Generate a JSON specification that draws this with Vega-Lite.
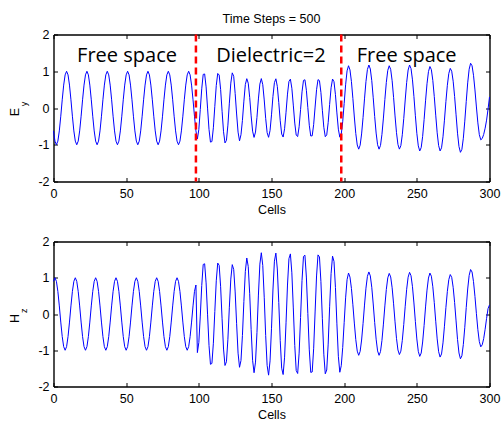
{
"$schema":"https://vega.github.io/schema/vega-lite/v6.json",
"background":"white",
"padding":{"left":8.5,"top":12.5,"right":5,"bottom":5},
"bounds":"flush",
"spacing":60,
"config":{
 "view":{"stroke":null},
 "font":"Liberation Sans",
 "axis":{"grid":false,"domainColor":"black","domainWidth":1.4,"tickColor":"black","tickWidth":1,"tickSize":-4,"labelFont":"Liberation Sans","labelFontSize":12.5,"labelColor":"black","titleFont":"Liberation Sans","titleFontSize":12.5,"titleFontWeight":"normal","titleColor":"black","labelOverlap":false,"labelFlush":false}
},
"datasets":{
"ey":[{"cell":0,"value":-0.623},{"cell":1,"value":-0.901},{"cell":2,"value":-1},{"cell":3,"value":-0.901},{"cell":4,"value":-0.623},{"cell":5,"value":-0.223},{"cell":6,"value":0.223},{"cell":7,"value":0.623},{"cell":8,"value":0.901},{"cell":9,"value":1},{"cell":10,"value":0.901},{"cell":11,"value":0.623},{"cell":12,"value":0.223},{"cell":13,"value":-0.223},{"cell":14,"value":-0.623},{"cell":15,"value":-0.901},{"cell":16,"value":-1},{"cell":17,"value":-0.901},{"cell":18,"value":-0.623},{"cell":19,"value":-0.223},{"cell":20,"value":0.223},{"cell":21,"value":0.623},{"cell":22,"value":0.901},{"cell":23,"value":1},{"cell":24,"value":0.901},{"cell":25,"value":0.623},{"cell":26,"value":0.223},{"cell":27,"value":-0.223},{"cell":28,"value":-0.623},{"cell":29,"value":-0.901},{"cell":30,"value":-1},{"cell":31,"value":-0.901},{"cell":32,"value":-0.623},{"cell":33,"value":-0.223},{"cell":34,"value":0.223},{"cell":35,"value":0.623},{"cell":36,"value":0.901},{"cell":37,"value":1},{"cell":38,"value":0.901},{"cell":39,"value":0.623},{"cell":40,"value":0.223},{"cell":41,"value":-0.223},{"cell":42,"value":-0.623},{"cell":43,"value":-0.901},{"cell":44,"value":-1},{"cell":45,"value":-0.901},{"cell":46,"value":-0.623},{"cell":47,"value":-0.223},{"cell":48,"value":0.223},{"cell":49,"value":0.623},{"cell":50,"value":0.901},{"cell":51,"value":1},{"cell":52,"value":0.901},{"cell":53,"value":0.623},{"cell":54,"value":0.223},{"cell":55,"value":-0.223},{"cell":56,"value":-0.623},{"cell":57,"value":-0.901},{"cell":58,"value":-1},{"cell":59,"value":-0.901},{"cell":60,"value":-0.623},{"cell":61,"value":-0.223},{"cell":62,"value":0.223},{"cell":63,"value":0.623},{"cell":64,"value":0.901},{"cell":65,"value":1},{"cell":66,"value":0.901},{"cell":67,"value":0.623},{"cell":68,"value":0.223},{"cell":69,"value":-0.223},{"cell":70,"value":-0.623},{"cell":71,"value":-0.901},{"cell":72,"value":-1},{"cell":73,"value":-0.901},{"cell":74,"value":-0.623},{"cell":75,"value":-0.223},{"cell":76,"value":0.223},{"cell":77,"value":0.623},{"cell":78,"value":0.901},{"cell":79,"value":1},{"cell":80,"value":0.901},{"cell":81,"value":0.623},{"cell":82,"value":0.223},{"cell":83,"value":-0.223},{"cell":84,"value":-0.623},{"cell":85,"value":-0.901},{"cell":86,"value":-1},{"cell":87,"value":-0.901},{"cell":88,"value":-0.623},{"cell":89,"value":-0.223},{"cell":90,"value":0.223},{"cell":91,"value":0.623},{"cell":92,"value":0.901},{"cell":93,"value":1},{"cell":94,"value":0.901},{"cell":95,"value":0.623},{"cell":96,"value":0.223},{"cell":97,"value":-0.223},{"cell":98,"value":-0.623},
{"cell":99,"value":-0.842},{"cell":100,"value":-0.584},{"cell":101,"value":-0.039},{"cell":102,"value":0.522},{"cell":103,"value":0.915},{"cell":104,"value":0.926},{"cell":105,"value":0.574},{"cell":106,"value":-0.003},{"cell":107,"value":-0.58},{"cell":108,"value":-0.928},{"cell":109,"value":-0.913},{"cell":110,"value":-0.539},{"cell":111,"value":0.046},{"cell":112,"value":0.613},{"cell":113,"value":0.94},{"cell":114,"value":0.897},{"cell":115,"value":0.502},{"cell":116,"value":-0.089},{"cell":117,"value":-0.647},{"cell":118,"value":-0.95},{"cell":119,"value":-0.881},{"cell":120,"value":-0.466},{"cell":121,"value":0.132},{"cell":122,"value":0.677},{"cell":123,"value":0.957},{"cell":124,"value":0.862},{"cell":125,"value":0.397},{"cell":126,"value":-0.163},{"cell":127,"value":-0.657},{"cell":128,"value":-0.894},{"cell":129,"value":-0.728},{"cell":130,"value":-0.336},{"cell":131,"value":0.187},{"cell":132,"value":0.638},{"cell":133,"value":0.798},{"cell":134,"value":0.675},{"cell":135,"value":0.288},{"cell":136,"value":-0.214},{"cell":137,"value":-0.63},{"cell":138,"value":-0.8},{"cell":139,"value":-0.655},{"cell":140,"value":-0.254},{"cell":141,"value":0.247},{"cell":142,"value":0.651},{"cell":143,"value":0.8},{"cell":144,"value":0.634},{"cell":145,"value":0.219},{"cell":146,"value":-0.282},{"cell":147,"value":-0.672},{"cell":148,"value":-0.798},{"cell":149,"value":-0.612},{"cell":150,"value":-0.186},{"cell":151,"value":0.314},{"cell":152,"value":0.69},{"cell":153,"value":0.795},{"cell":154,"value":0.588},{"cell":155,"value":0.15},{"cell":156,"value":-0.347},{"cell":157,"value":-0.708},{"cell":158,"value":-0.79},{"cell":159,"value":-0.564},{"cell":160,"value":-0.115},{"cell":161,"value":0.378},{"cell":162,"value":0.723},{"cell":163,"value":0.785},{"cell":164,"value":0.538},{"cell":165,"value":0.079},{"cell":166,"value":-0.41},{"cell":167,"value":-0.738},{"cell":168,"value":-0.777},{"cell":169,"value":-0.511},{"cell":170,"value":-0.045},{"cell":171,"value":0.439},{"cell":172,"value":0.751},{"cell":173,"value":0.768},{"cell":174,"value":0.482},{"cell":175,"value":0.008},{"cell":176,"value":-0.469},{"cell":177,"value":-0.762},{"cell":178,"value":-0.757},{"cell":179,"value":-0.454},{"cell":180,"value":0.026},{"cell":181,"value":0.497},{"cell":182,"value":0.772},{"cell":183,"value":0.745},{"cell":184,"value":0.424},{"cell":185,"value":-0.062},{"cell":186,"value":-0.525},{"cell":187,"value":-0.781},{"cell":188,"value":-0.731},{"cell":189,"value":-0.394},{"cell":190,"value":0.098},{"cell":191,"value":0.55},{"cell":192,"value":0.788},{"cell":193,"value":0.716},{"cell":194,"value":0.362},{"cell":195,"value":-0.134},{"cell":196,"value":-0.576},{"cell":197,"value":-0.794},
{"cell":198,"value":-0.71},{"cell":199,"value":-0.372},{"cell":200,"value":0.122},{"cell":201,"value":0.631},{"cell":202,"value":1.011},{"cell":203,"value":1.15},{"cell":204,"value":1.036},{"cell":205,"value":0.719},{"cell":206,"value":0.259},{"cell":207,"value":-0.245},{"cell":208,"value":-0.694},{"cell":209,"value":-1.006},{"cell":210,"value":-1.12},{"cell":211,"value":-1.012},{"cell":212,"value":-0.706},{"cell":213,"value":-0.26},{"cell":214,"value":0.248},{"cell":215,"value":0.72},{"cell":216,"value":1.048},{"cell":217,"value":1.17},{"cell":218,"value":1.061},{"cell":219,"value":0.743},{"cell":220,"value":0.278},{"cell":221,"value":-0.231},{"cell":222,"value":-0.682},{"cell":223,"value":-1.0},{"cell":224,"value":-1.12},{"cell":225,"value":-1.019},{"cell":226,"value":-0.717},{"cell":227,"value":-0.274},{"cell":228,"value":0.229},{"cell":229,"value":0.695},{"cell":230,"value":1.024},{"cell":231,"value":1.15},{"cell":232,"value":1.05},{"cell":233,"value":0.743},{"cell":234,"value":0.289},{"cell":235,"value":-0.216},{"cell":236,"value":-0.671},{"cell":237,"value":-0.993},{"cell":238,"value":-1.119},{"cell":239,"value":-1.025},{"cell":240,"value":-0.728},{"cell":241,"value":-0.288},{"cell":242,"value":0.218},{"cell":243,"value":0.694},{"cell":244,"value":1.033},{"cell":245,"value":1.169},{"cell":246,"value":1.074},{"cell":247,"value":0.766},{"cell":248,"value":0.309},{"cell":249,"value":-0.211},{"cell":250,"value":-0.688},{"cell":251,"value":-1.03},{"cell":252,"value":-1.169},{"cell":253,"value":-1.078},{"cell":254,"value":-0.772},{"cell":255,"value":-0.316},{"cell":256,"value":0.195},{"cell":257,"value":0.659},{"cell":258,"value":0.991},{"cell":259,"value":1.129},{"cell":260,"value":1.043},{"cell":261,"value":0.751},{"cell":262,"value":0.313},{"cell":263,"value":-0.195},{"cell":264,"value":-0.675},{"cell":265,"value":-1.023},{"cell":266,"value":-1.168},{"cell":267,"value":-1.083},{"cell":268,"value":-0.784},{"cell":269,"value":-0.331},{"cell":270,"value":0.173},{"cell":271,"value":0.618},{"cell":272,"value":0.941},{"cell":273,"value":1.078},{"cell":274,"value":1.002},{"cell":275,"value":0.729},{"cell":276,"value":0.312},{"cell":277,"value":-0.186},{"cell":278,"value":-0.685},{"cell":279,"value":-1.049},{"cell":280,"value":-1.206},{"cell":281,"value":-1.127},{"cell":282,"value":-0.823},{"cell":283,"value":-0.358},{"cell":284,"value":0.179},{"cell":285,"value":0.684},{"cell":286,"value":1.054},{"cell":287,"value":1.217},{"cell":288,"value":1.15},{"cell":289,"value":0.891},{"cell":290,"value":0.491},{"cell":291,"value":0.028},{"cell":292,"value":-0.405},{"cell":293,"value":-0.725},{"cell":294,"value":-0.866},{"cell":295,"value":-0.83},{"cell":296,"value":-0.72},{"cell":297,"value":-0.55},{"cell":298,"value":-0.33},{"cell":299,"value":-0.03},{"cell":300,"value":0.3}],
"hz":[{"cell":0,"value":0.901},{"cell":1,"value":1},{"cell":2,"value":0.901},{"cell":3,"value":0.623},{"cell":4,"value":0.223},{"cell":5,"value":-0.223},{"cell":6,"value":-0.623},{"cell":7,"value":-0.901},{"cell":8,"value":-1},{"cell":9,"value":-0.901},{"cell":10,"value":-0.623},{"cell":11,"value":-0.223},{"cell":12,"value":0.223},{"cell":13,"value":0.623},{"cell":14,"value":0.901},{"cell":15,"value":1},{"cell":16,"value":0.901},{"cell":17,"value":0.623},{"cell":18,"value":0.223},{"cell":19,"value":-0.223},{"cell":20,"value":-0.623},{"cell":21,"value":-0.901},{"cell":22,"value":-1},{"cell":23,"value":-0.901},{"cell":24,"value":-0.623},{"cell":25,"value":-0.223},{"cell":26,"value":0.223},{"cell":27,"value":0.623},{"cell":28,"value":0.901},{"cell":29,"value":1},{"cell":30,"value":0.901},{"cell":31,"value":0.623},{"cell":32,"value":0.223},{"cell":33,"value":-0.223},{"cell":34,"value":-0.623},{"cell":35,"value":-0.901},{"cell":36,"value":-1},{"cell":37,"value":-0.901},{"cell":38,"value":-0.623},{"cell":39,"value":-0.223},{"cell":40,"value":0.223},{"cell":41,"value":0.623},{"cell":42,"value":0.901},{"cell":43,"value":1},{"cell":44,"value":0.901},{"cell":45,"value":0.623},{"cell":46,"value":0.223},{"cell":47,"value":-0.223},{"cell":48,"value":-0.623},{"cell":49,"value":-0.901},{"cell":50,"value":-1},{"cell":51,"value":-0.901},{"cell":52,"value":-0.623},{"cell":53,"value":-0.223},{"cell":54,"value":0.223},{"cell":55,"value":0.623},{"cell":56,"value":0.901},{"cell":57,"value":1},{"cell":58,"value":0.901},{"cell":59,"value":0.623},{"cell":60,"value":0.223},{"cell":61,"value":-0.223},{"cell":62,"value":-0.623},{"cell":63,"value":-0.901},{"cell":64,"value":-1},{"cell":65,"value":-0.901},{"cell":66,"value":-0.623},{"cell":67,"value":-0.223},{"cell":68,"value":0.223},{"cell":69,"value":0.623},{"cell":70,"value":0.901},{"cell":71,"value":1},{"cell":72,"value":0.901},{"cell":73,"value":0.623},{"cell":74,"value":0.223},{"cell":75,"value":-0.223},{"cell":76,"value":-0.623},{"cell":77,"value":-0.901},{"cell":78,"value":-1},{"cell":79,"value":-0.901},{"cell":80,"value":-0.623},{"cell":81,"value":-0.223},{"cell":82,"value":0.223},{"cell":83,"value":0.623},{"cell":84,"value":0.901},{"cell":85,"value":1},{"cell":86,"value":0.901},{"cell":87,"value":0.623},{"cell":88,"value":0.223},{"cell":89,"value":-0.223},{"cell":90,"value":-0.623},{"cell":91,"value":-0.901},{"cell":92,"value":-1},{"cell":93,"value":-0.901},{"cell":94,"value":-0.623},{"cell":95,"value":-0.223},{"cell":96,"value":0.223},{"cell":97,"value":0.623},{"cell":98,"value":0.8},
{"cell":99,"value":-1.065},{"cell":100,"value":-0.785},{"cell":101,"value":-0.057},{"cell":102,"value":0.785},{"cell":103,"value":1.367},{"cell":104,"value":1.385},{"cell":105,"value":0.858},{"cell":106,"value":-0.004},{"cell":107,"value":-0.867},{"cell":108,"value":-1.388},{"cell":109,"value":-1.364},{"cell":110,"value":-0.806},{"cell":111,"value":0.068},{"cell":112,"value":0.916},{"cell":113,"value":1.405},{"cell":114,"value":1.341},{"cell":115,"value":0.751},{"cell":116,"value":-0.133},{"cell":117,"value":-0.967},{"cell":118,"value":-1.42},{"cell":119,"value":-1.317},{"cell":120,"value":-0.696},{"cell":121,"value":0.188},{"cell":122,"value":0.963},{"cell":123,"value":1.362},{"cell":124,"value":1.227},{"cell":125,"value":0.609},{"cell":126,"value":-0.268},{"cell":127,"value":-1.08},{"cell":128,"value":-1.47},{"cell":129,"value":-1.283},{"cell":130,"value":-0.592},{"cell":131,"value":0.346},{"cell":132,"value":1.176},{"cell":133,"value":1.545},{"cell":134,"value":1.308},{"cell":135,"value":0.558},{"cell":136,"value":-0.433},{"cell":137,"value":-1.277},{"cell":138,"value":-1.62},{"cell":139,"value":-1.327},{"cell":140,"value":-0.514},{"cell":141,"value":0.522},{"cell":142,"value":1.376},{"cell":143,"value":1.69},{"cell":144,"value":1.338},{"cell":145,"value":0.463},{"cell":146,"value":-0.595},{"cell":147,"value":-1.42},{"cell":148,"value":-1.687},{"cell":149,"value":-1.293},{"cell":150,"value":-0.392},{"cell":151,"value":0.662},{"cell":152,"value":1.457},{"cell":153,"value":1.68},{"cell":154,"value":1.242},{"cell":155,"value":0.316},{"cell":156,"value":-0.733},{"cell":157,"value":-1.496},{"cell":158,"value":-1.67},{"cell":159,"value":-1.191},{"cell":160,"value":-0.243},{"cell":161,"value":0.799},{"cell":162,"value":1.528},{"cell":163,"value":1.658},{"cell":164,"value":1.136},{"cell":165,"value":0.167},{"cell":166,"value":-0.865},{"cell":167,"value":-1.56},{"cell":168,"value":-1.641},{"cell":169,"value":-1.08},{"cell":170,"value":-0.095},{"cell":171,"value":0.928},{"cell":172,"value":1.587},{"cell":173,"value":1.622},{"cell":174,"value":1.019},{"cell":175,"value":0.017},{"cell":176,"value":-0.99},{"cell":177,"value":-1.611},{"cell":178,"value":-1.599},{"cell":179,"value":-0.96},{"cell":180,"value":0.056},{"cell":181,"value":1.049},{"cell":182,"value":1.631},{"cell":183,"value":1.573},{"cell":184,"value":0.896},{"cell":185,"value":-0.132},{"cell":186,"value":-1.109},{"cell":187,"value":-1.649},{"cell":188,"value":-1.545},{"cell":189,"value":-0.831},{"cell":190,"value":0.198},{"cell":191,"value":1.115},{"cell":192,"value":1.596},{"cell":193,"value":1.45},{"cell":194,"value":0.732},{"cell":195,"value":-0.271},{"cell":196,"value":-1.166},{"cell":197,"value":-1.607},
{"cell":198,"value":-1.426},{"cell":199,"value":-0.925},{"cell":200,"value":-0.24},{"cell":201,"value":0.445},{"cell":202,"value":0.947},{"cell":203,"value":1.13},{"cell":204,"value":1.018},{"cell":205,"value":0.706},{"cell":206,"value":0.254},{"cell":207,"value":-0.25},{"cell":208,"value":-0.707},{"cell":209,"value":-1.024},{"cell":210,"value":-1.14},{"cell":211,"value":-1.031},{"cell":212,"value":-0.718},{"cell":213,"value":-0.264},{"cell":214,"value":0.246},{"cell":215,"value":0.713},{"cell":216,"value":1.039},{"cell":217,"value":1.16},{"cell":218,"value":1.052},{"cell":219,"value":0.737},{"cell":220,"value":0.276},{"cell":221,"value":-0.235},{"cell":222,"value":-0.694},{"cell":223,"value":-1.018},{"cell":224,"value":-1.14},{"cell":225,"value":-1.037},{"cell":226,"value":-0.73},{"cell":227,"value":-0.279},{"cell":228,"value":0.223},{"cell":229,"value":0.676},{"cell":230,"value":0.997},{"cell":231,"value":1.12},{"cell":232,"value":1.023},{"cell":233,"value":0.724},{"cell":234,"value":0.281},{"cell":235,"value":-0.216},{"cell":236,"value":-0.671},{"cell":237,"value":-0.993},{"cell":238,"value":-1.119},{"cell":239,"value":-1.025},{"cell":240,"value":-0.728},{"cell":241,"value":-0.288},{"cell":242,"value":0.214},{"cell":243,"value":0.682},{"cell":244,"value":1.015},{"cell":245,"value":1.149},{"cell":246,"value":1.056},{"cell":247,"value":0.753},{"cell":248,"value":0.304},{"cell":249,"value":-0.211},{"cell":250,"value":-0.688},{"cell":251,"value":-1.03},{"cell":252,"value":-1.169},{"cell":253,"value":-1.078},{"cell":254,"value":-0.772},{"cell":255,"value":-0.316},{"cell":256,"value":0.195},{"cell":257,"value":0.659},{"cell":258,"value":0.991},{"cell":259,"value":1.129},{"cell":260,"value":1.043},{"cell":261,"value":0.751},{"cell":262,"value":0.313},{"cell":263,"value":-0.199},{"cell":264,"value":-0.687},{"cell":265,"value":-1.04},{"cell":266,"value":-1.188},{"cell":267,"value":-1.102},{"cell":268,"value":-0.797},{"cell":269,"value":-0.337},{"cell":270,"value":0.174},{"cell":271,"value":0.623},{"cell":272,"value":0.949},{"cell":273,"value":1.088},{"cell":274,"value":1.012},{"cell":275,"value":0.736},{"cell":276,"value":0.315},{"cell":277,"value":-0.191},{"cell":278,"value":-0.702},{"cell":279,"value":-1.075},{"cell":280,"value":-1.236},{"cell":281,"value":-1.154},{"cell":282,"value":-0.843},{"cell":283,"value":-0.367},{"cell":284,"value":0.181},{"cell":285,"value":0.69},{"cell":286,"value":1.063},{"cell":287,"value":1.227},{"cell":288,"value":1.158},{"cell":289,"value":0.893},{"cell":290,"value":0.483},{"cell":291,"value":0.009},{"cell":292,"value":-0.434},{"cell":293,"value":-0.761},{"cell":294,"value":-0.906},{"cell":295,"value":-0.85},{"cell":296,"value":-0.68},{"cell":297,"value":-0.42},{"cell":298,"value":-0.12},{"cell":299,"value":0.15},{"cell":300,"value":0.25}],
"regions":[{"cell":50.6,"value":1.265,"label":"Free space"},{"cell":149.6,"value":1.265,"label":"Dielectric=2"},{"cell":243,"value":1.265,"label":"Free space"}],
"boundaries":[{"cell":98},{"cell":198}]
},
"vconcat":[
 {
  "width":436,"height":147,
  "title":{"text":"Time Steps = 500","font":"Liberation Sans","fontSize":12.5,"fontWeight":"normal","color":"black","baseline":"alphabetic","offset":-7,"anchor":"middle"},
  "layer":[
   {"data":{"name":"ey"},"mark":{"type":"line","color":"#0000ff","strokeWidth":1},
    "encoding":{
     "x":{"field":"cell","type":"quantitative","scale":{"domain":[0,300],"nice":false,"zero":false},
      "axis":{"orient":"bottom","values":[0,50,100,150,200,250,300],"title":"Cells","labelPadding":10,"titlePadding":3,"labelExpr":"datum.value + ''"}},
     "y":{"field":"value","type":"quantitative","scale":{"domain":[-2,2],"nice":false,"zero":false},
      "axis":{"orient":"left","values":[-2,-1,0,1,2],"title":"E","labelPadding":8.5,"titlePadding":16,"titleY":77,"labelExpr":"datum.value + ''"}}
    }},
   {"data":{"name":"regions"},"mark":{"type":"text","font":"Open Sans","fontSize":20,"baseline":"alphabetic","align":"center","color":"black"},
    "encoding":{
     "x":{"field":"cell","type":"quantitative","scale":{"domain":[0,300],"nice":false,"zero":false},
      "axis":{"orient":"top","values":[0,50,100,150,200,250,300],"labels":false,"title":null}},
     "y":{"field":"value","type":"quantitative","scale":{"domain":[-2,2],"nice":false,"zero":false},
      "axis":{"orient":"right","values":[-2,-1,0,1,2],"labels":false,"title":null}},
     "text":{"field":"label"}
    }},
   {"data":{"name":"boundaries"},"mark":{"type":"rule","color":"#ff0000","strokeWidth":2.5,"strokeDash":[7,4]},
    "encoding":{"x":{"field":"cell","type":"quantitative","scale":{"domain":[0,300],"nice":false,"zero":false},"axis":null}}},
   {"data":{"values":[{}]},"mark":{"type":"text","text":"y","angle":270,"fontSize":9,"font":"Liberation Sans","align":"center","baseline":"middle","color":"black"},
    "encoding":{
     "x":{"datum":-20.1,"type":"quantitative","scale":{"domain":[0,300],"nice":false,"zero":false},"axis":null},
     "y":{"datum":0.11,"type":"quantitative","scale":{"domain":[-2,2],"nice":false,"zero":false},"axis":null}
    }}
  ],
  "resolve":{"axis":{"x":"independent","y":"independent"}}
 },
 {
  "width":436,"height":145,
  "layer":[
   {"data":{"name":"hz"},"mark":{"type":"line","color":"#0000ff","strokeWidth":1},
    "encoding":{
     "x":{"field":"cell","type":"quantitative","scale":{"domain":[0,300],"nice":false,"zero":false},
      "axis":{"orient":"bottom","values":[0,50,100,150,200,250,300],"title":"Cells","labelPadding":10,"titlePadding":3,"labelExpr":"datum.value + ''"}},
     "y":{"field":"value","type":"quantitative","scale":{"domain":[-2,2],"nice":false,"zero":false},
      "axis":{"orient":"left","values":[-2,-1,0,1,2],"title":"H","labelPadding":8.5,"titlePadding":16,"titleY":76.5,"labelExpr":"datum.value + ''"}}
    }},
   {"data":{"values":[{}]},"mark":{"type":"text","text":"z","angle":270,"fontSize":9,"font":"Liberation Sans","align":"center","baseline":"middle","color":"black"},
    "encoding":{
     "x":{"datum":-20.4,"type":"quantitative","scale":{"domain":[0,300],"nice":false,"zero":false},
      "axis":{"orient":"top","values":[0,50,100,150,200,250,300],"labels":false,"title":null}},
     "y":{"datum":0.09,"type":"quantitative","scale":{"domain":[-2,2],"nice":false,"zero":false},
      "axis":{"orient":"right","values":[-2,-1,0,1,2],"labels":false,"title":null}}
    }}
  ],
  "resolve":{"axis":{"x":"independent","y":"independent"}}
 }
]
}
